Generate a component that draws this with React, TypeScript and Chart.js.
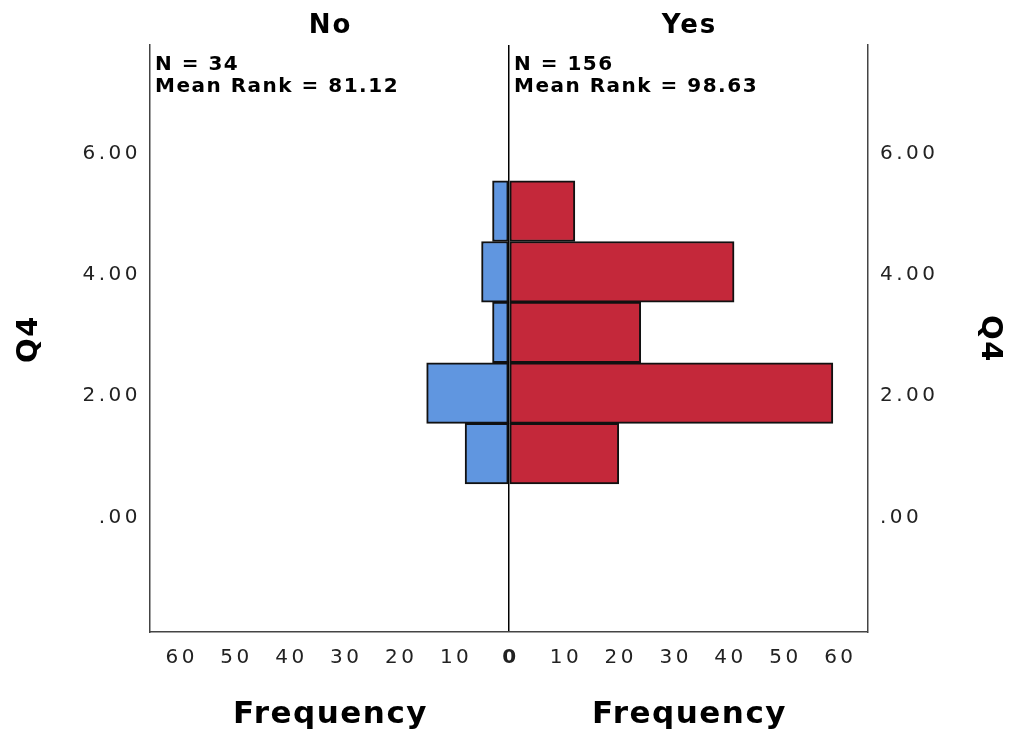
import React, { useEffect, useRef } from 'react';
import { Chart, registerables } from 'chart.js';

Chart.register(...registerables);

// ---- data ----
const bins = [1, 2, 3, 4, 5];
const noCounts = [8, 15, 3, 5, 3];
const yesCounts = [20, 59, 24, 41, 12];
const groupNames = ['No', 'Yes'];
const groupN = [34, 156];
const meanRanks = ['81.12', '98.63'];
const variableName = 'Q4';
const freqTitle = 'Frequency';
const xRange = [-65.4, 65.4];
const yRange = [-1.94, 7.74];

const FONT = "'DejaVu Sans', 'Liberation Sans', sans-serif";

const yTickLabel = (v: number) => (v === 0 ? '.00' : Number(v).toFixed(2));

const textPlugin = {
  id: 'sideText',
  beforeDraw(chart: any) {
    (chart.ctx as any).letterSpacing = '3.5px';
  },
  afterDraw(chart: any) {
    const ctx = chart.ctx as any;
    const xs = chart.scales.x;
    const area = chart.chartArea;
    const x0 = xs.getPixelForValue(0);
    const centers = [(area.left + x0) / 2, (x0 + area.right) / 2];
    const starts = [area.left + 5, x0 + 5];
    ctx.save();
    ctx.fillStyle = '#000';
    // headers
    ctx.letterSpacing = '2px';
    ctx.font = `bold 26px ${FONT}`;
    ctx.textAlign = 'center';
    ctx.textBaseline = 'alphabetic';
    groupNames.forEach((g, i) => ctx.fillText(g, centers[i] + 1, 33));
    // annotations
    ctx.letterSpacing = '1.5px';
    ctx.font = `bold 20px ${FONT}`;
    ctx.textAlign = 'left';
    groupNames.forEach((_, i) => {
      ctx.fillText(`N = ${groupN[i]}`, starts[i], 70);
      ctx.fillText(`Mean Rank = ${meanRanks[i]}`, starts[i], 92);
    });
    // frequency titles
    ctx.letterSpacing = '1.5px';
    ctx.font = `bold 31px ${FONT}`;
    ctx.textAlign = 'center';
    centers.forEach((c) => ctx.fillText(freqTitle, c + 1, 723));
    // Q4 titles
    ctx.font = `bold 29px ${FONT}`;
    ctx.textBaseline = 'middle';
    ctx.save();
    ctx.translate(29, 340);
    ctx.rotate(-Math.PI / 2);
    ctx.fillText(variableName, 1, 0);
    ctx.restore();
    ctx.save();
    ctx.translate(990, 338);
    ctx.rotate(Math.PI / 2);
    ctx.fillText(variableName, 1, 0);
    ctx.restore();
    ctx.restore();
    ctx.letterSpacing = '0px';
  },
};

export default function App() {
  const ref = useRef<HTMLCanvasElement | null>(null);
  useEffect(() => {
    document.body.style.margin = '0';
    const canvas = ref.current;
    if (!canvas) return;
    const chart = new Chart(canvas, {
      type: 'bar',
      data: {
        datasets: [
          {
            label: groupNames[0],
            data: bins.map((b, i) => ({ x: -noCounts[i], y: b })),
            backgroundColor: '#6096E0',
            borderColor: '#111',
            borderWidth: 2,
            borderSkipped: false,
            grouped: false,
            barPercentage: 1,
            categoryPercentage: 1,
          } as any,
          {
            label: groupNames[1],
            data: bins.map((b, i) => ({ x: yesCounts[i], y: b })),
            backgroundColor: '#C4283A',
            borderColor: '#111',
            borderWidth: 2,
            borderSkipped: false,
            grouped: false,
            barPercentage: 1,
            categoryPercentage: 1,
          } as any,
        ],
      },
      options: {
        indexAxis: 'y',
        responsive: false,
        animation: false,
        devicePixelRatio: 1,
        layout: { padding: { top: 45, left: 0, right: 0, bottom: 0 } },
        plugins: { legend: { display: false }, tooltip: { enabled: false }, title: { display: false } },
        scales: {
          x: {
            type: 'linear',
            min: xRange[0],
            max: xRange[1],
            offset: false,
            afterFit: (s: any) => { s.height = 102; },
            ticks: {
              stepSize: 10,
              includeBounds: false,
              autoSkip: false,
              maxRotation: 0,
              padding: 14,
              labelOffset: 2,
              color: '#222',
              font: (c: any) => ({ family: FONT, size: 20, weight: c.tick && c.tick.value === 0 ? 'bold' : 'normal' }),
              callback: (v: any) => String(Math.abs(Number(v))),
            },
            grid: {
              display: true,
              offset: false,
              drawTicks: false,
              color: (c: any) => (c.tick && c.tick.value === 0 ? '#000' : 'rgba(0,0,0,0)'),
              lineWidth: (c: any) => (c.tick && c.tick.value === 0 ? 1.5 : 0),
            },
            border: { display: true, color: '#444', width: 1.5 },
          },
          y: {
            type: 'linear',
            position: 'left',
            min: yRange[0],
            max: yRange[1],
            offset: false,
            afterFit: (s: any) => { s.width = 150; },
            ticks: {
              stepSize: 2,
              includeBounds: false,
              autoSkip: false,
              padding: 9,
              labelOffset: 3,
              color: '#222',
              font: { family: FONT, size: 20 },
              callback: (v: any) => yTickLabel(Number(v)),
            },
            grid: { display: false, drawTicks: false, offset: false },
            border: { display: true, color: '#444', width: 1.5 },
          },
          y2: {
            type: 'linear',
            position: 'right',
            min: yRange[0],
            max: yRange[1],
            offset: false,
            afterFit: (s: any) => { s.width = 145; },
            ticks: {
              stepSize: 2,
              includeBounds: false,
              autoSkip: false,
              padding: 12,
              labelOffset: 3,
              color: '#222',
              font: { family: FONT, size: 20 },
              callback: (v: any) => yTickLabel(Number(v)),
            },
            grid: { display: false, drawTicks: false, offset: false },
            border: { display: true, color: '#444', width: 1.5 },
          },
        },
      } as any,
      plugins: [textPlugin],
    });
    return () => chart.destroy();
  }, []);
  return (
    <div style={{ width: 1013, height: 734, background: '#fff' }}>
      <canvas ref={ref} width={1013} height={734} style={{ display: 'block' }} />
    </div>
  );
}
